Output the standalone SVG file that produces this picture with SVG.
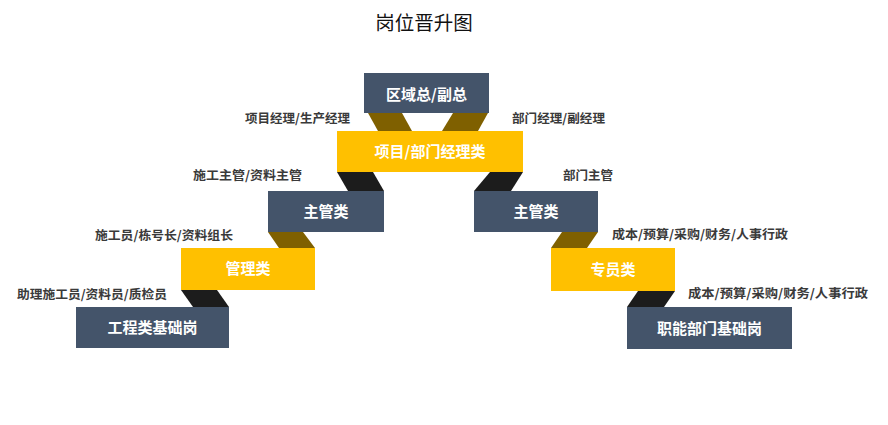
<svg xmlns="http://www.w3.org/2000/svg" width="888" height="425" viewBox="0 0 888 425">
<style>
.slate{fill:#44546a}
.gold{fill:#ffc000}
.brown{fill:#7f6000}
.dark{fill:#1c1c1c}
.bt{font-family:"Noto Sans CJK SC","Liberation Sans",sans-serif;font-size:15px;font-weight:bold;fill:#ffffff;text-anchor:middle}
.lb{font-family:"Noto Sans CJK SC","Liberation Sans",sans-serif;font-size:12.5px;font-weight:bold;fill:#3a3a3a}
.title{font-family:"Noto Sans CJK SC","Liberation Sans",sans-serif;font-size:19.5px;fill:#111111;text-anchor:middle}
</style>
<rect width="888" height="425" fill="#ffffff"/>
<text class="title" x="424" y="30">岗位晋升图</text>

<g id="connectors">
  <polygon class="brown" points="368,113 402,113 412,131 378,131"/>
  <polygon class="brown" points="453,113 488,113 478,131 442,131"/>
  <polygon class="dark" points="337,172 373,172 384,191 348,191"/>
  <polygon class="dark" points="490,172 523,172 511,191 474,191"/>
  <polygon class="brown" points="268,232 303,232 315,248 279,248"/>
  <polygon class="brown" points="562,232 598,232 587,248 551,248"/>
  <polygon class="dark" points="181,290 217,290 229,307 193,307"/>
  <polygon class="dark" points="638,291 675,291 664,307 627,307"/>
</g>

<g id="node-top">
  <rect class="slate" x="364" y="73" width="125" height="40"/>
  <text class="bt" x="426.5" y="100">区域总/副总</text>
</g>
<g id="node-manager">
  <rect class="gold" x="337" y="131" width="186" height="41"/>
  <text class="bt" x="430" y="157">项目/部门经理类</text>
</g>
<g id="node-sup-left">
  <rect class="slate" x="268" y="191" width="116" height="41"/>
  <text class="bt" x="326" y="217">主管类</text>
</g>
<g id="node-sup-right">
  <rect class="slate" x="474" y="191" width="124" height="41"/>
  <text class="bt" x="536" y="217">主管类</text>
</g>
<g id="node-mgmt">
  <rect class="gold" x="181" y="248" width="134" height="42"/>
  <text class="bt" x="248" y="274">管理类</text>
</g>
<g id="node-spec">
  <rect class="gold" x="551" y="248" width="124" height="43"/>
  <text class="bt" x="613" y="274.5">专员类</text>
</g>
<g id="node-eng-base">
  <rect class="slate" x="76" y="307" width="153" height="41"/>
  <text class="bt" x="152.5" y="333">工程类基础岗</text>
</g>
<g id="node-func-base">
  <rect class="slate" x="627" y="307" width="165" height="42"/>
  <text class="bt" x="709.5" y="333.5">职能部门基础岗</text>
</g>

<g id="labels">
  <text class="lb" x="245" y="122.5" textLength="105" lengthAdjust="spacingAndGlyphs">项目经理/生产经理</text>
  <text class="lb" x="512" y="122.5" textLength="93" lengthAdjust="spacingAndGlyphs">部门经理/副经理</text>
  <text class="lb" x="193" y="179.5" textLength="109" lengthAdjust="spacingAndGlyphs">施工主管/资料主管</text>
  <text class="lb" x="563" y="180" textLength="50" lengthAdjust="spacingAndGlyphs">部门主管</text>
  <text class="lb" x="95" y="239.5" textLength="138" lengthAdjust="spacingAndGlyphs">施工员/栋号长/资料组长</text>
  <text class="lb" x="612" y="238.5" textLength="176" lengthAdjust="spacingAndGlyphs">成本/预算/采购/财务/人事行政</text>
  <text class="lb" x="17" y="298.5" textLength="150" lengthAdjust="spacingAndGlyphs">助理施工员/资料员/质检员</text>
  <text class="lb" x="688" y="297.5" textLength="180" lengthAdjust="spacingAndGlyphs">成本/预算/采购/财务/人事行政</text>
</g>
</svg>
